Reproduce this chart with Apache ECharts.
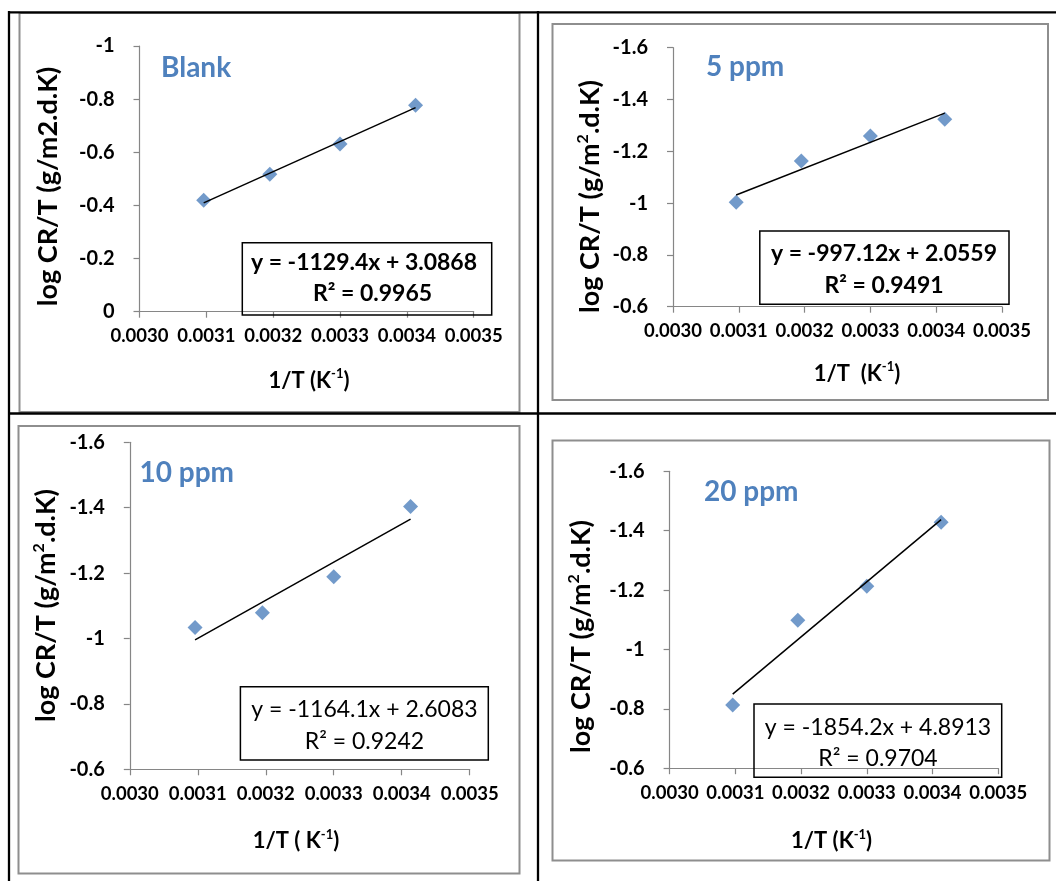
<!DOCTYPE html>
<html><head><meta charset="utf-8">
<script src="https://cdn.jsdelivr.net/npm/echarts/dist/echarts.min.js"></script>
<style>html,body{margin:0;padding:0;background:#fff}#c{width:1056px;height:881px}</style>
</head><body><div id="c"></div>
<script>
// ---- data ----
const invT = [0.003096, 0.003195, 0.0033, 0.003413];
const panelTitles = ['Blank', '5 ppm', '10 ppm', '20 ppm'];
const logBlank = [-0.419, -0.517, -0.631, -0.777];
const log5ppm = [-1.003, -1.163, -1.259, -1.324];
const log10ppm = [-1.034, -1.079, -1.189, -1.404];
const log20ppm = [-0.813, -1.098, -1.213, -1.428];
const slopes = [-1129.4, -997.12, -1164.1, -1854.2];
const intercepts = [3.0868, 2.0559, 2.6083, 4.8913];
const rSquared = ['0.9965', '0.9491', '0.9242', '0.9704'];
const yMins = [-1, -1.6, -1.6, -1.6];
const yMaxs = [0, -0.6, -0.6, -0.6];
const xMin = 0.0030, xMax = 0.0035, xStep = 0.0001, yStep = 0.2;
const xTitleParts = [['1/T (K', '-1', ')'], ['1/T  (K', '-1', ')'], ['1/T ( K', '-1', ')'], ['1/T (K', '-1', ')']];
const yTitleParts = [['log CR/T (g/m2.d.K)', '', ''], ['log CR/T (g/m', '2', '.d.K)'], ['log CR/T (g/m', '2', '.d.K)'], ['log CR/T (g/m', '2', '.d.K)']];
const seriesValues = [logBlank, log5ppm, log10ppm, log20ppm];

// ---- layout / style ----
const FONT = 'Lato';
const BLUE = '#4F81BD';
const AXIS = '#868686';
const L = [
  { grid:{left:139.5, top:46, width:334.2, height:265.7}, frame:[19.5,13,500,399], title:[161,68], yName:[48.2,186.5], xName:[309,380.5], box:[242.3,242.7,249.4,72.3], eq:[[364,262.5],[372.5,294]], bold:true },
  { grid:{left:673, top:47.7, width:329, height:259}, frame:[552.5,24,495.5,376], title:[706,67], yName:[590.2,196.5], xName:[857,373.5], box:[759.8,231,249.2,73.3], eq:[[884,254],[884,286]], bold:true },
  { grid:{left:129.8, top:442.3, width:339.9, height:327}, frame:[18.5,426,501,447.5], title:[139.5,473], yName:[45.8,605.5], xName:[296,841], box:[240.4,686.7,247.9,73.3], eq:[[364.4,710],[364.4,741.5]], bold:false },
  { grid:{left:669.6, top:471.3, width:328.7, height:296.9}, frame:[552.5,440.5,497,420], title:[704,492], yName:[581.1,636.5], xName:[831.6,841], box:[754,704,247.7,73.3], eq:[[878,727.5],[878,758.5]], bold:false }
];

const grids = [], xAxes = [], yAxes = [], series = [], graphics = [];

// table lines
const black = (x1,y1,x2,y2) => ({type:'line', silent:true, shape:{x1,y1,x2,y2}, style:{stroke:'#000', lineWidth:2.3}, z:100});
graphics.push(black(8,12.3,1056,12.3), black(9,11,9,881), black(538,11,538,881), black(8,413.5,1056,413.5));

L.forEach((p, i) => {
  grids.push({left:p.grid.left, top:p.grid.top, width:p.grid.width, height:p.grid.height});
  xAxes.push({
    type:'value', gridIndex:i, min:xMin, max:xMax, interval:xStep,
    axisLine:{onZero:false, lineStyle:{color:AXIS, width:1.2}},
    axisTick:{show:true, inside:false, length:6, lineStyle:{color:AXIS, width:1.2}},
    splitLine:{show:false},
    axisLabel:{margin:15, fontSize:18.5, fontWeight:'bold', fontFamily:FONT, color:'#000', formatter:v => v.toFixed(4)}
  });
  yAxes.push({
    type:'value', gridIndex:i, inverse:true, min:yMins[i], max:yMaxs[i], interval:yStep,
    axisLine:{show:true, onZero:false, lineStyle:{color:AXIS, width:1.2}},
    axisTick:{show:true, inside:false, length:6, lineStyle:{color:AXIS, width:1.2}},
    splitLine:{show:false},
    axisLabel:{margin:25, fontSize:20, fontWeight:'bold', fontFamily:FONT, color:'#000'}
  });
  const vals = seriesValues[i];
  series.push({
    type:'scatter', xAxisIndex:i, yAxisIndex:i, symbol:'diamond', symbolSize:15,
    itemStyle:{color:BLUE}, data: invT.map((x, k) => [x, vals[k]])
  });
  const x0 = Math.min(...invT), x1 = Math.max(...invT);
  series.push({
    type:'line', xAxisIndex:i, yAxisIndex:i, symbol:'none', silent:true,
    lineStyle:{color:'#000', width:1.5},
    data:[[x0, slopes[i]*x0 + intercepts[i]], [x1, slopes[i]*x1 + intercepts[i]]]
  });
  // grey chart frame
  graphics.push({type:'rect', silent:true, shape:{x:p.frame[0], y:p.frame[1], width:p.frame[2], height:p.frame[3]}, style:{fill:null, stroke:'#8e8e8e', lineWidth:2}, z:50});
  // panel title
  graphics.push({type:'text', x:p.title[0], y:p.title[1], style:{text:panelTitles[i], fill:BLUE, font:`bold 28px ${FONT}`, textAlign:'left', textVerticalAlign:'middle'}, z:60});
  // y axis title
  const yp = yTitleParts[i];
  graphics.push({type:'text', x:p.yName[0], y:p.yName[1], rotation:Math.PI/2,
    style:{text:`{b|${yp[0]}}` + (yp[1] ? `{s|${yp[1]}}{b|${yp[2]}}` : ''), textAlign:'center', textVerticalAlign:'middle',
      rich:{b:{fontFamily:FONT, fontWeight:'bold', fontSize:27, fill:'#000', lineHeight:30},
            s:{fontFamily:FONT, fontWeight:'bold', fontSize:16, fill:'#000', verticalAlign:'top', lineHeight:30, padding:[0,0,12,0]}}}, z:60});
  // x axis title
  const xp = xTitleParts[i];
  graphics.push({type:'text', x:p.xName[0], y:p.xName[1],
    style:{text:`{b|${xp[0]}}{s|${xp[1]}}{b|${xp[2]}}`, textAlign:'center', textVerticalAlign:'middle',
      rich:{b:{fontFamily:FONT, fontWeight:'bold', fontSize:22, fill:'#000', lineHeight:26},
            s:{fontFamily:FONT, fontWeight:'bold', fontSize:13, fill:'#000', verticalAlign:'top', lineHeight:26, padding:[0,0,10,0]}}}, z:60});
  // equation box
  graphics.push({type:'rect', silent:true, shape:{x:p.box[0], y:p.box[1], width:p.box[2], height:p.box[3]}, style:{fill:null, stroke:'#000', lineWidth:1.5}, z:60});
  const w = p.bold ? 'bold' : 'normal';
  graphics.push({type:'text', x:p.eq[0][0], y:p.eq[0][1], style:{text:`y = ${slopes[i]}x + ${intercepts[i]}`, fill:'#000', font:`${w} 23px ${FONT}`, textAlign:'center', textVerticalAlign:'middle'}, z:60});
  graphics.push({type:'text', x:p.eq[1][0], y:p.eq[1][1], style:{text:`R\u00B2 = ${rSquared[i]}`, fill:'#000', font:`${w} 23px ${FONT}`, textAlign:'center', textVerticalAlign:'middle'}, z:60});
});

const chart = echarts.init(document.getElementById('c'), null, {renderer:'canvas'});
chart.setOption({
  animation:false,
  backgroundColor:'#fff',
  grid:grids, xAxis:xAxes, yAxis:yAxes, series:series, graphic:graphics
});
</script></body></html>
